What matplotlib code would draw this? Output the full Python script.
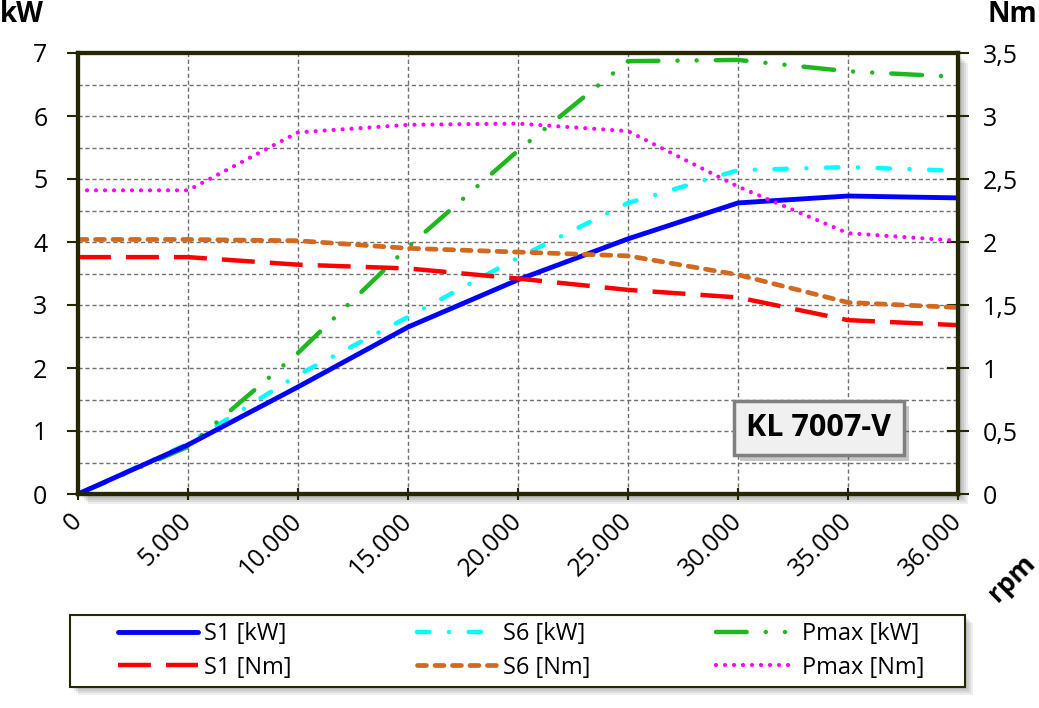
import numpy as np
import matplotlib
matplotlib.use('Agg')
import matplotlib.pyplot as plt
import matplotlib.patheffects as pe
from matplotlib.patches import Rectangle
from matplotlib.ticker import MultipleLocator, FuncFormatter

plt.rcParams['font.family'] = ['Open Sans', 'DejaVu Sans']

# rpm categories (equally spaced on the chart)
rpm_labels = ['0', '5.000', '10.000', '15.000', '20.000', '25.000', '30.000', '35.000', '36.000']

# power [kW]
s1_kw = [0, 0.78, 1.70, 2.65, 3.40, 4.05, 4.62, 4.73, 4.70]
s6_kw = [0, 0.80, 1.89, 2.81, 3.75, 4.62, 5.14, 5.19, 5.13]
pmax_kw = [0, 0.75, 2.24, 3.92, 5.45, 6.87, 6.89, 6.71, 6.62]

# torque [Nm]
s1_nm = [1.88, 1.88, 1.82, 1.79, 1.71, 1.62, 1.56, 1.38, 1.34]
s6_nm = [2.02, 2.02, 2.01, 1.95, 1.92, 1.89, 1.74, 1.52, 1.48]
pmax_nm = [2.41, 2.41, 2.87, 2.93, 2.94, 2.88, 2.44, 2.07, 2.01]

x = np.arange(len(rpm_labels))
edge = '#262600'
FW, FH = 1039, 708

fig = plt.figure(figsize=(10.39, 7.08), dpi=100)
L, B = 78 / FW, 1 - 494 / FH
W, H = 880 / FW, 441 / FH


def shadow_box(x0, y0, w, h, steps=5, zorder=0):
    # soft shadow: stacked translucent rectangles shifted down-right
    for i in range(steps):
        off = 2 + 2 * i
        fig.patches.append(Rectangle((x0 + off / FW, y0 - off / FH), w, h,
                                     transform=fig.transFigure, facecolor='black',
                                     alpha=0.07, edgecolor='none', zorder=zorder))


shadow_box(L, B, W, H)

ax = fig.add_axes([L, B, W, H])
ax.set_zorder(2)
ax.set_facecolor('white')
ax2 = ax.twinx()
ax2.set_zorder(3)

ax.plot(x, s1_kw, color='#0000FF', lw=3.5, solid_capstyle='round', label='S1 [kW]', zorder=5)
ax.plot(x, s6_kw, color='#00FFFF', lw=3.2, dashes=(2.8, 4.4, 0.01, 4.4), dash_capstyle='round',
        label='S6 [kW]', zorder=4)
ax.plot(x, pmax_kw, color='#1DB81D', lw=3.2, dashes=(6.9, 4.3, 0.01, 4.3, 0.01, 4.3),
        dash_capstyle='round', label='Pmax [kW]', zorder=4)
ax2.plot(x, s1_nm, color='#FF0000', lw=3.2, dashes=(7.4, 3.4), label='S1 [Nm]')
ax2.plot(x, s6_nm, color='#D2691E', lw=3.4, dashes=(1.9, 1.8), dash_capstyle='round', label='S6 [Nm]')
ax2.plot(x, pmax_nm, color='#FF00FF', lw=3.0, dashes=(0.01, 2.15), dash_capstyle='round',
         label='Pmax [Nm]')

ax.set_xlim(0, len(x) - 1)
ax.set_ylim(0, 7)
ax2.set_ylim(0, 3.5)
ax.set_xticks(x)
ax.set_xticklabels(rpm_labels, rotation=45, ha='right', va='center', rotation_mode='anchor', fontsize=18)
ax.yaxis.set_major_locator(MultipleLocator(1))
ax.yaxis.set_minor_locator(MultipleLocator(0.5))
ax2.yaxis.set_major_locator(MultipleLocator(0.5))
ax2.yaxis.set_major_formatter(FuncFormatter(lambda v, p: ('%g' % v).replace('.', ',')))
ax.tick_params(axis='y', labelsize=18, length=8, width=1.5, color=edge, pad=14, which='major')
ax.tick_params(axis='y', which='minor', length=0)
ax.tick_params(axis='x', length=9, width=1.5, color=edge, pad=12, direction='inout')
ax2.tick_params(axis='y', labelsize=18, length=16, width=1.5, color=edge, direction='inout', pad=10)

ax.grid(True, which='both', axis='y', color='#707070', linestyle=(0, (3, 2)), lw=1)
ax.grid(True, which='major', axis='x', color='#707070', linestyle=(0, (3, 2)), lw=1)
ax.set_axisbelow(True)
for a in (ax, ax2):
    for s in a.spines.values():
        s.set_color(edge)
        s.set_linewidth(3)

fig.text(0 / FW, 1 - 15 / FH, 'kW', fontsize=20, fontweight='bold', ha='left', va='center')
fig.text(1037 / FW, 1 - 15 / FH, 'Nm', fontsize=20, fontweight='bold', ha='right', va='center')
fig.text(1012 / FW, 1 - 578 / FH, 'rpm', fontsize=19, fontweight='bold', ha='center', va='center', rotation=45)

t = ax2.text(0.842, 0.150, 'KL 7007-V', transform=ax.transAxes, fontsize=22, fontweight='bold',
             ha='center', va='center', zorder=10,
             bbox=dict(boxstyle='square,pad=0.4', facecolor='#F0F0F0', edgecolor='#808080', lw=2.5))
t.get_bbox_patch().set_path_effects([pe.SimplePatchShadow(offset=(4, -4), alpha=0.3), pe.Normal()])

# legend frame drawn separately (wide box with shadow)
lx, ly, lw_, lh = 70 / FW, 1 - 687 / FH, 895 / FW, 72 / FH
shadow_box(lx, ly, lw_, lh, steps=4)
fig.patches.append(Rectangle((lx, ly), lw_, lh, transform=fig.transFigure, facecolor='white',
                             edgecolor=edge, lw=1.5, zorder=1))

h1, l1 = ax.get_legend_handles_labels()
h2, l2 = ax2.get_legend_handles_labels()
handles = [h1[0], h2[0], h1[1], h2[1], h1[2], h2[2]]
labels = [l1[0], l2[0], l1[1], l2[1], l1[2], l2[2]]
leg = fig.legend(handles, labels, ncol=3, loc='center left', bbox_to_anchor=(118 / FW, 1 - 651 / FH),
                 fontsize=17, frameon=False, handlelength=3.4,
                 columnspacing=5.3, borderpad=0, labelspacing=0.4, handletextpad=0.25,
                 borderaxespad=0)
leg.set_zorder(4)

fig.savefig('out.png', dpi=100)
